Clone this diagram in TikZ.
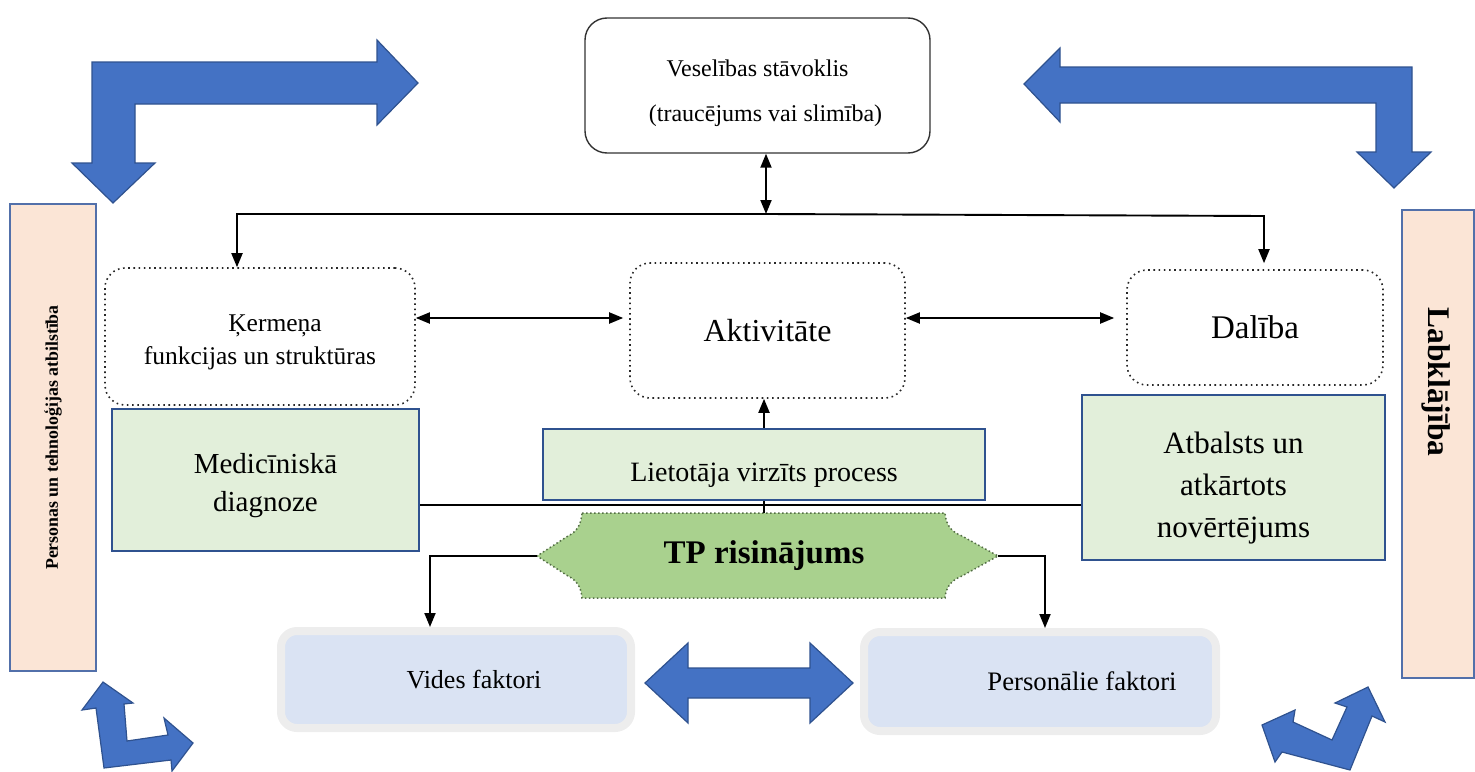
\documentclass[tikz,border=0pt]{standalone}
\usepackage{fontspec}
\setmainfont{Liberation Serif}
\usetikzlibrary{arrows.meta,positioning,calc}
\definecolor{icfblue}{RGB}{68,114,196}
\definecolor{icfblueline}{RGB}{47,82,143}
\definecolor{icfgreen}{RGB}{226,239,218}
\definecolor{icfpeach}{RGB}{251,229,214}
\definecolor{icftp}{RGB}{169,209,142}
\definecolor{icftpline}{RGB}{84,110,70}
\definecolor{icffact}{RGB}{218,227,243}
\definecolor{icfside}{RGB}{82,112,170}

\begin{document}
\begin{tikzpicture}[x=1pt,y=-1pt,
  every node/.style={inner sep=0pt,align=center},
  topbox/.style={draw=black!80,line width=1.4pt,rounded corners=22pt},
  dotbox/.style={draw=black!85,line width=1.6pt,dash pattern=on 1.6pt off 3.6pt,rounded corners=20pt},
  greenbox/.style={draw=icfblueline,fill=icfgreen,line width=2.2pt},
  sidebox/.style={draw=icfside,fill=icfpeach,line width=2.2pt},
  factbox/.style={draw=black!7,line width=8pt,fill=icffact,rounded corners=16pt},
  blockarrow/.style={fill=icfblue,draw=icfblueline,line width=1.2pt},
  link/.style={line width=1.9pt,-{Triangle[length=14pt,width=11pt]}},
  dlink/.style={line width=1.9pt,{Triangle[length=14pt,width=11pt]}-{Triangle[length=14pt,width=11pt]}}]

\useasboundingbox (0,0) rectangle (1475,771);

\draw[blockarrow] (92,62) -- (377,62) -- (377,40) -- (418,83) -- (377,125) -- (377,104) -- (135,104) -- (135,163) -- (155,163) -- (113,203) -- (72,163) -- (92,163) -- cycle;
\draw[blockarrow] (1024,84) -- (1060,48) -- (1060,67) -- (1412,67) -- (1412,152) -- (1431,152) -- (1394,188) -- (1357,152) -- (1376,152) -- (1376,103) -- (1060,103) -- (1060,122) -- cycle;
\draw[blockarrow] (103,682) -- (133,703) -- (124,704) -- (127,741) -- (168,735) -- (164,718) -- (193,743) -- (172,771) -- (171,760) -- (104,768) -- (96,708) -- (82,710) -- cycle;
\draw[blockarrow] (1368,687) -- (1385,722) -- (1372,716) -- (1350,770) -- (1282,752) -- (1275,762) -- (1262,725) -- (1295,710) -- (1293,722) -- (1332,740) -- (1347,707) -- (1335,703) -- cycle;
\draw[blockarrow] (645,683) -- (688,643) -- (688,668) -- (810,668) -- (810,643) -- (853,683) -- (810,723) -- (810,698) -- (688,698) -- (688,723) -- cycle;

\node[topbox,minimum width=345pt,minimum height=135pt,font={\fontsize{24}{45}\selectfont}] (health) at (757.5,85.5) {\rule{0pt}{33pt}Veselības stāvoklis\\ \hspace*{16pt}(traucējums vai slimība)};

\node[dotbox,minimum width=310pt,minimum height=137pt,font={\fontsize{25.5}{33}\selectfont}] (body) at (260,336.5) {\rule{0pt}{28pt}\hspace*{30pt}Ķermeņa\\ funkcijas un struktūras};
\node[dotbox,minimum width=275pt,minimum height=135pt,font={\fontsize{32}{36}\selectfont}] (act) at (767.5,330.5) {Aktivitāte};
\node[dotbox,minimum width=256pt,minimum height=115pt,font={\fontsize{33}{36}\selectfont}] (part) at (1255,327.5) {Dalība};

\node[greenbox,minimum width=307pt,minimum height=142pt,font={\fontsize{29}{38}\selectfont}] (diag) at (265.5,480) {\rule{0pt}{31pt}Medicīniskā\\ diagnoze};
\node[greenbox,minimum width=442pt,minimum height=71pt,font={\fontsize{28}{32}\selectfont}] (user) at (764,464.5) {\raisebox{-11pt}[\height][\depth]{Lietotāja virzīts process}};
\node[greenbox,minimum width=303pt,minimum height=165pt,font={\fontsize{31}{42}\selectfont}] (support) at (1233.5,477.5) {\rule{0pt}{42pt}Atbalsts un\\ atkārtots\\ novērtējums};

\node[sidebox,minimum width=467pt,minimum height=86pt,rotate=90,font={\fontsize{17.8}{20}\selectfont\bfseries}] (aid) at (53,437.5) {Personas un tehnoloģijas atbilstība};
\node[sidebox,minimum width=72pt,minimum height=468pt] (wellbox) at (1438,444) {};
\node[rotate=-90,font={\fontsize{31.5}{34}\selectfont\bfseries}] (wellbeing) at (1436,382) {Labklājība};

\draw[fill=icftp,draw=icftpline,line width=1.5pt,dash pattern=on 1.5pt off 2.5pt] (582,513) -- (945,513) .. controls (946,526) and (952,532) .. (962,536) -- (998,556) -- (962,576) .. controls (952,580) and (946,586) .. (945,598) -- (582,598) .. controls (581,586) and (576,580) .. (568,576) -- (537,556) -- (568,536) .. controls (576,532) and (581,526) .. cycle;
\node[font={\fontsize{33}{36}\selectfont\bfseries}] (tp) at (764,556) {TP risinājums};
\coordinate (tpT) at (764,513);
\coordinate (tpL) at (537,556);
\coordinate (tpR) at (998,556);

\node[factbox,minimum width=350pt,minimum height=97pt,font={\fontsize{26}{30}\selectfont}] (env) at (456,679.5) {\hspace*{36pt}Vides faktori};
\node[factbox,minimum width=352pt,minimum height=99pt,font={\fontsize{26.7}{30}\selectfont}] (pers) at (1040,681.5) {\hspace*{84pt}Personālie faktori};

\coordinate (bus) at (766,214);
\coordinate (busL) at (237,214);
\coordinate (busR) at (1264,216);
\coordinate (rowY) at (0,318);
\coordinate (barY) at (0,505);

\draw[dlink] ([xshift=8.5pt]health.south) -- (bus);
\draw[link] (bus) -- (busL) -- (busL |- body.north);
\draw[link] (bus) -- (busR) -- ([yshift=6pt]busR |- part.north);
\draw[dlink,shorten >=6pt] (body.east |- rowY) -- (act.west |- rowY);
\draw[dlink,shorten >=12pt] (act.east |- rowY) -- (part.west |- rowY);
\draw[link] (user.north) -- (user.north |- act.south);
\draw[line width=1.9pt] (diag.east |- barY) -- (support.west |- barY);
\draw[line width=1.9pt] (user.south) -- (tpT);
\draw[link] (tpL) -| ([xshift=-26pt]env.north);
\draw[link] (tpR) -| ([xshift=5pt]pers.north);
\end{tikzpicture}
\end{document}
